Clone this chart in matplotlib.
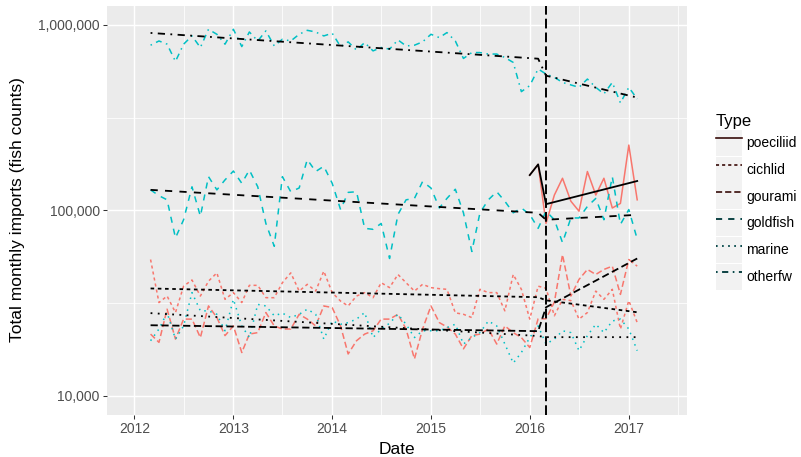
import matplotlib
matplotlib.use("Agg")
import matplotlib.pyplot as plt
from matplotlib.lines import Line2D
from matplotlib.patches import Patch
from matplotlib.ticker import FixedLocator, FixedFormatter, NullFormatter
import numpy as np
import pandas as pd

plt.rcParams['font.family'] = ['Liberation Sans', 'DejaVu Sans']

# monthly imports, thousands of fish
months = pd.date_range('2012-03-01', '2017-02-01', freq='MS')
poec_months = pd.date_range('2016-01-01', '2017-02-01', freq='MS')

otherfw = [778, 820, 788, 636, 788, 873, 756, 948, 891, 788,
           948, 765, 917, 820, 929, 771, 838, 820, 891, 936,
           917, 873, 903, 765, 811, 732, 804, 725, 756, 741,
           831, 771, 778, 811, 891, 855, 910, 820, 660, 710,
           710, 697, 697, 668, 628, 437, 471, 579, 544, 522,
           490, 475, 461, 511, 461, 425, 490, 380, 461, 399]
goldfish = [129, 120, 114, 71, 89, 134, 93, 152, 129, 146,
            163, 140, 165, 134, 85, 64, 152, 126, 132, 188,
            162, 173, 140, 101, 125, 126, 80, 79, 85, 55,
            95, 114, 116, 143, 132, 103, 116, 130, 97, 60,
            97, 114, 126, 112, 97, 103, 95, 80, 99, 89,
            67, 91, 91, 105, 116, 89, 152, 84, 101, 70]
cichlid = [54.3, 31.8, 34.5, 28.1, 39.0, 42.1, 34.5, 41.5, 46.0, 33.1,
           36.0, 31.8, 39.4, 39.4, 33.8, 33.8, 40.7, 46.0, 36.7, 39.9,
           36.7, 47.0, 36.0, 32.4, 30.5, 34.5, 36.0, 33.8, 40.7, 38.3,
           45.1, 40.7, 36.7, 39.9, 38.3, 37.8, 37.5, 28.0, 27.5, 26.4,
           37.5, 36.0, 36.0, 28.7, 45.1, 37.5, 25.9, 39.0, 38.0, 27.0,
           33.1, 32.6, 25.9, 28.1, 36.7, 33.1, 37.5, 22.9, 32.6, 24.8]
gourami = [21.5, 19.4, 29.3, 20.2, 25.9, 25.9, 20.6, 30.5, 26.4, 21.1,
           23.8, 17.1, 21.5, 21.9, 28.1, 23.8, 22.9, 22.9, 27.5, 25.9,
           23.8, 30.5, 29.9, 23.8, 16.8, 19.8, 21.5, 22.4, 25.9, 25.9,
           27.5, 22.9, 15.8, 22.9, 30.5, 24.8, 23.5, 21.5, 17.9, 21.1,
           21.5, 22.9, 19.0, 23.8, 21.9, 20.6, 18.2, 26.0, 26.0, 32.0,
           57.7, 34.5, 42.4, 48.0, 45.1, 48.0, 50.0, 35.2, 54.3, 50.0]
marine = [19.8, 22.9, 28.1, 20.2, 23.8, 36.0, 28.7, 28.7, 27.5, 22.4,
          33.1, 23.8, 20.6, 31.1, 30.5, 27.0, 27.9, 26.4, 27.5, 29.3,
          27.5, 20.2, 25.3, 24.3, 24.8, 25.9, 28.1, 20.6, 22.9, 24.6,
          27.5, 24.3, 20.6, 22.4, 22.4, 22.4, 23.3, 24.3, 19.0, 20.6,
          21.9, 25.3, 23.8, 19.0, 15.0, 17.1, 20.6, 23.8, 19.0, 20.2,
          22.4, 21.9, 17.5, 21.1, 24.3, 21.9, 25.3, 25.9, 22.9, 17.5]
poeciliid = [155, 177, 85, 121, 149, 112, 99, 162, 121, 149, 103, 109, 225, 114]

# segmented fit: start, last pre month, first post month, end
fit_dates = pd.to_datetime(['2012-03-01', '2016-02-01', '2016-03-01', '2017-02-01'])
poec_fit_dates = pd.to_datetime(['2016-01-01', '2016-02-01', '2016-03-01', '2017-02-01'])
fit = {
    'poeciliid': [155, 177, 108, 144],
    'cichlid': [37.9, 34.0, 32.7, 28.2],
    'gourami': [24.0, 22.3, 30.0, 55.0],
    'goldfish': [129, 97, 89, 94.6],
    'marine': [27.9, 21.0, 20.7, 20.7],
    'otherfw': [906, 658, 533, 406],
}
intervention = pd.Timestamp('2016-03-01')

types = ['poeciliid', 'cichlid', 'gourami', 'goldfish', 'marine', 'otherfw']
series = {'poeciliid': poeciliid, 'cichlid': cichlid, 'gourami': gourami,
          'goldfish': goldfish, 'marine': marine, 'otherfw': otherfw}
red, cyan = '#F8766D', '#00BFC4'
colors = {'poeciliid': red, 'cichlid': red, 'gourami': red,
          'goldfish': cyan, 'marine': cyan, 'otherfw': cyan}
styles = {'poeciliid': '-', 'cichlid': (0, (2, 2)), 'gourami': (0, (4, 2)),
          'goldfish': (0, (4, 4)), 'marine': (0, (1, 3)), 'otherfw': (0, (1, 3, 4, 3))}

fig = plt.figure(figsize=(8.01, 4.57), dpi=100)
ax = fig.add_axes([107 / 801, 1 - 415 / 457, 580 / 801, 409 / 457])
ax.set_facecolor('#EBEBEB')
for s in ax.spines.values():
    s.set_visible(False)

lw = 1.1
for t in types:
    x = poec_months if t == 'poeciliid' else months
    ax.plot(x, np.array(series[t]) * 1000, color=colors[t], ls=styles[t], lw=lw)
for t in types:
    x = poec_fit_dates if t == 'poeciliid' else fit_dates
    ax.plot(x, np.array(fit[t]) * 1000, color='black', ls=styles[t], lw=lw + 0.2)
ax.axvline(intervention, color='black', lw=1.4, ls=(0, (5, 2.1)))

ax.set_yscale('log')
ax.yaxis.set_major_locator(FixedLocator([1e4, 1e5, 1e6]))
ax.yaxis.set_major_formatter(FixedFormatter(['10,000', '100,000', '1,000,000']))
ax.yaxis.set_minor_locator(FixedLocator([10 ** 4.5, 10 ** 5.5]))
ax.yaxis.set_minor_formatter(NullFormatter())
ax.set_ylim(10 ** 3.896, 10 ** 6.1025)

years = [pd.Timestamp(f'{y}-01-01') for y in range(2012, 2018)]
halves = [pd.Timestamp(f'{y}-07-01') for y in range(2012, 2018)]
ax.set_xticks(years)
ax.set_xticklabels([str(y) for y in range(2012, 2018)])
ax.set_xticks(halves, minor=True)
ax.set_xlim(pd.Timestamp('2011-09-22'), pd.Timestamp('2017-08-04'))

ax.grid(which='major', color='white', lw=1.07)
ax.grid(which='minor', color='white', lw=0.55)
ax.set_axisbelow(True)
ax.tick_params(which='major', length=2.75, width=0.75, color='#333333',
               labelcolor='#4D4D4D', labelsize=10, pad=2.4)
ax.tick_params(which='minor', length=0)

fig.text(397 / 801, 1 - 449 / 457, 'Date', ha='center', va='center', fontsize=12.5)
fig.text(18 / 801, 1 - 210 / 457, 'Total monthly imports (fish counts)', rotation=90,
         ha='center', va='center', fontsize=12.5)

handles = []
for t in types:
    handles.append((Patch(facecolor='#F2F2F2', edgecolor='none'),
                    Line2D([], [], color=colors[t], ls=styles[t], lw=lw),
                    Line2D([], [], color='black', ls=styles[t], lw=lw, alpha=0.85)))
leg = fig.legend(handles, types, loc='upper left', bbox_to_anchor=(716 / 801, 1 - 114 / 457),
                 frameon=False, fontsize=10, title='Type', title_fontsize=12,
                 handlelength=1.87, handleheight=2.5, labelspacing=0.06,
                 handletextpad=0.3, borderpad=0, borderaxespad=0, alignment='left')

fig.savefig('out.png', dpi=100)
